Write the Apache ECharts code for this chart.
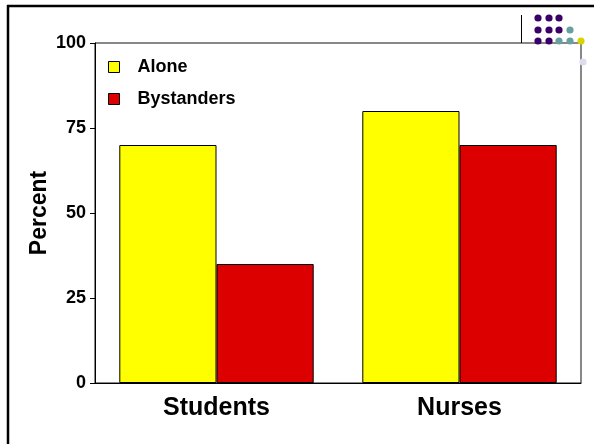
<!DOCTYPE html>
<html>
<head>
<meta charset="utf-8">
<script src="https://cdn.jsdelivr.net/npm/echarts@6/dist/echarts.min.js"></script>
<style>
  html, body { margin: 0; padding: 0; background: #fff; }
  #chart { width: 594px; height: 444px; }
</style>
</head>
<body>
<div id="chart"></div>
<script>
const groups = ['Students', 'Nurses']
const alone = [70, 80]
const bystanders = [35, 70]
const yTicks = [0, 25, 50, 75, 100]

const font = 'Liberation Sans, Arial, sans-serif'

// corner decoration (dot grid + lines, like the slide template)
const dots = [
  [538, 18, '#3a0068'], [549, 18, '#3a0068'], [559, 18, '#3a0068'],
  [538, 30, '#3a0068'], [549, 30, '#3a0068'], [559, 30, '#3a0068'], [570, 30, '#66a0a0'],
  [538, 41, '#3a0068'], [549, 41, '#3a0068'], [559, 41, '#66a0a0'], [570, 41, '#66a0a0'], [581, 41, '#d8d400'],
  [583, 62, '#dcdcf0']
]

const option = {
  animation: false,
  grid: {
    left: 95,
    right: 13,
    top: 43,
    bottom: 61,
    show: true,
    borderColor: '#111',
    borderWidth: 1
  },
  legend: {
    orient: 'vertical',
    left: 108,
    top: 58,
    padding: 0,
    itemWidth: 11,
    itemHeight: 11,
    itemGap: 14,
    icon: 'rect',
    itemStyle: { borderColor: '#000', borderWidth: 1 },
    textStyle: {
      fontFamily: font,
      fontWeight: 'bold',
      fontSize: 18,
      lineHeight: 11,
      color: '#000',
      padding: [0, 0, 0, 13]
    },
    data: ['Alone', 'Bystanders']
  },
  xAxis: {
    type: 'category',
    data: groups,
    axisLine: { lineStyle: { color: '#000', width: 1 } },
    axisTick: { alignWithLabel: true, length: 5, lineStyle: { color: '#000' } },
    axisLabel: {
      margin: 13,
      fontFamily: font,
      fontWeight: 'bold',
      fontSize: 25,
      color: '#000'
    }
  },
  yAxis: {
    type: 'value',
    min: 0,
    max: 100,
    interval: 25,
    name: 'Percent',
    nameLocation: 'middle',
    nameGap: 44,
    nameMoveOverlap: false,
    nameTextStyle: {
      fontFamily: font,
      fontWeight: 'bold',
      fontSize: 23,
      color: '#000'
    },
    axisLine: { show: true, lineStyle: { color: '#000', width: 1 } },
    axisTick: { show: true, length: 5, lineStyle: { color: '#000' } },
    splitLine: { show: false },
    axisLabel: {
      margin: 9,
      fontFamily: font,
      fontWeight: 'bold',
      fontSize: 18,
      color: '#000',
      formatter: v => (yTicks.indexOf(v) >= 0 ? String(v) : '')
    }
  },
  series: [
    {
      name: 'Alone',
      type: 'bar',
      data: alone,
      barGap: '0%',
      barCategoryGap: '20%',
      itemStyle: { color: '#ffff00', borderColor: '#000', borderWidth: 1 }
    },
    {
      name: 'Bystanders',
      type: 'bar',
      data: bystanders,
      itemStyle: { color: '#dd0000', borderColor: '#000', borderWidth: 1 }
    }
  ],
  graphic: [
    { type: 'line', shape: { x1: 7, y1: 6, x2: 594, y2: 6 }, style: { stroke: '#000', lineWidth: 2.5 }, z: 100 },
    { type: 'line', shape: { x1: 8, y1: 5, x2: 8, y2: 444 }, style: { stroke: '#000', lineWidth: 2.5 }, z: 100 },
    { type: 'line', shape: { x1: 521.5, y1: 15, x2: 521.5, y2: 43 }, style: { stroke: '#000', lineWidth: 1 }, z: 100 }
  ].concat(dots.map(d => ({
    type: 'circle',
    shape: { cx: d[0], cy: d[1], r: 3.6 },
    style: { fill: d[2] },
    z: 100
  })))
}

const chart = echarts.init(document.getElementById('chart'))
chart.setOption(option)
</script>
</body>
</html>
